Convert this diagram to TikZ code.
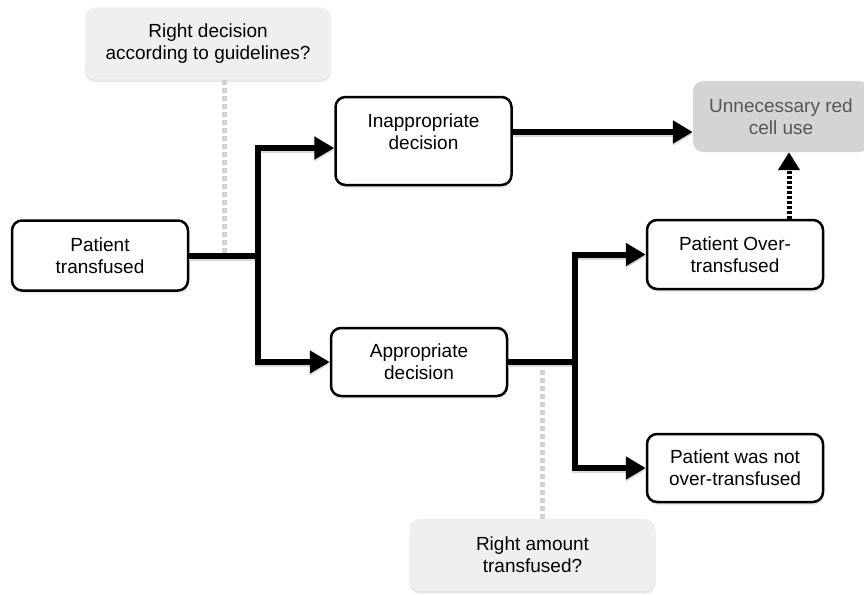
\documentclass[tikz,border=0pt]{standalone}
\usepackage{fontspec}
\setmainfont{Liberation Sans}
\usetikzlibrary{arrows.meta, shadows, calc}
\definecolor{qfill}{HTML}{EFEFEF}
\definecolor{outfill}{HTML}{D4D4D4}
\definecolor{guide}{HTML}{D2D2D2}
\definecolor{outtext}{HTML}{555555}

\begin{document}
\begin{tikzpicture}[x=1pt, y=-1pt]
        % Styles
        \tikzset{
          stage/.style={
            draw, line width=2.5pt, rounded corners=10pt,
            fill=white, align=center,
            minimum width=176pt, minimum height=70pt,
            font=\fontsize{19}{22}\selectfont,
            drop shadow={shadow xshift=1pt, shadow yshift=-3pt, fill=black!15}
          },
          question/.style={
            rounded corners=10pt, fill=qfill, align=center,
            minimum width=246pt, minimum height=72pt,
            font=\fontsize{19}{22}\selectfont,
            drop shadow={shadow xshift=0pt, shadow yshift=-2.5pt, fill=black!18}
          },
          outcome/.style={
            rounded corners=10pt, fill=outfill, align=center,
            text=outtext, minimum width=176pt, minimum height=71pt,
            font=\fontsize{19}{22}\selectfont
          },
          link/.style={
            line width=6pt,
            preaction={draw=black!15, line width=6pt, transform canvas={yshift=-2pt}}
          },
          arr/.style={link, -{Triangle[length=20pt, width=22pt]}},
          guideline/.style={draw=guide, line width=5pt, dash pattern=on 5pt off 3pt}
        }

        \useasboundingbox (0,0) rectangle (864,594);

        % questions (behind the flow)
        \node[question] (q1) at (208,43.5) {Right decision\\according to guidelines?};
        \node[question] (q2) at (532.5,555) {Right amount\\transfused?};

        % stages
        \node[stage] (pt) at (100,255.5) {Patient\\transfused};
        \node[stage, minimum height=88pt, inner ysep=0pt,
              text height=52pt, text depth=36pt] (inapp) at (423.5,141)
              {Inappropriate\\decision};
        \node[stage, minimum width=176pt, minimum height=68pt] (app) at (419,362) {Appropriate\\decision};
        \node[stage, minimum height=69pt] (over) at (735,254.5) {Patient Over-\\transfused};
        \node[stage, minimum height=68pt] (notover) at (735,468) {Patient was not\\over-transfused};
        \node[outcome] (unnec) at (781,116.5) {Unnecessary red\\cell use};

        % split points
        \coordinate (split1) at (258,255.5);
        \coordinate (split2) at (575,362);

        % dashed guides to the questions
        \draw[guideline] ([xshift=16pt]q1.south) -- ([xshift=16pt]q1.south |- pt.east);
        \draw[guideline] ([xshift=9.5pt]q2.north) -- ([xshift=9.5pt]q2.north |- app.east);

        % decision branch
        \draw[link] (pt.east) -- (split1);
        \draw[arr] (split1) |- ([yshift=-7pt]inapp.west);
        \draw[arr] (split1) |- (app.west);

        % amount branch
        \draw[link] (app.east) -- (split2);
        \draw[arr] (split2) |- (over.west);
        \draw[arr] (split2) |- (notover.west);

        % to unnecessary use
        \draw[arr] ([yshift=9pt]inapp.east) -- ([yshift=9pt]inapp.east -| unnec.west);
        \draw[line width=5pt, dash pattern=on 3pt off 2pt, -{Triangle[length=18pt, width=21pt]}]
          ([xshift=54pt]over.north) -- ([xshift=54pt]over.north |- unnec.south);
    \end{tikzpicture}
\end{document}
